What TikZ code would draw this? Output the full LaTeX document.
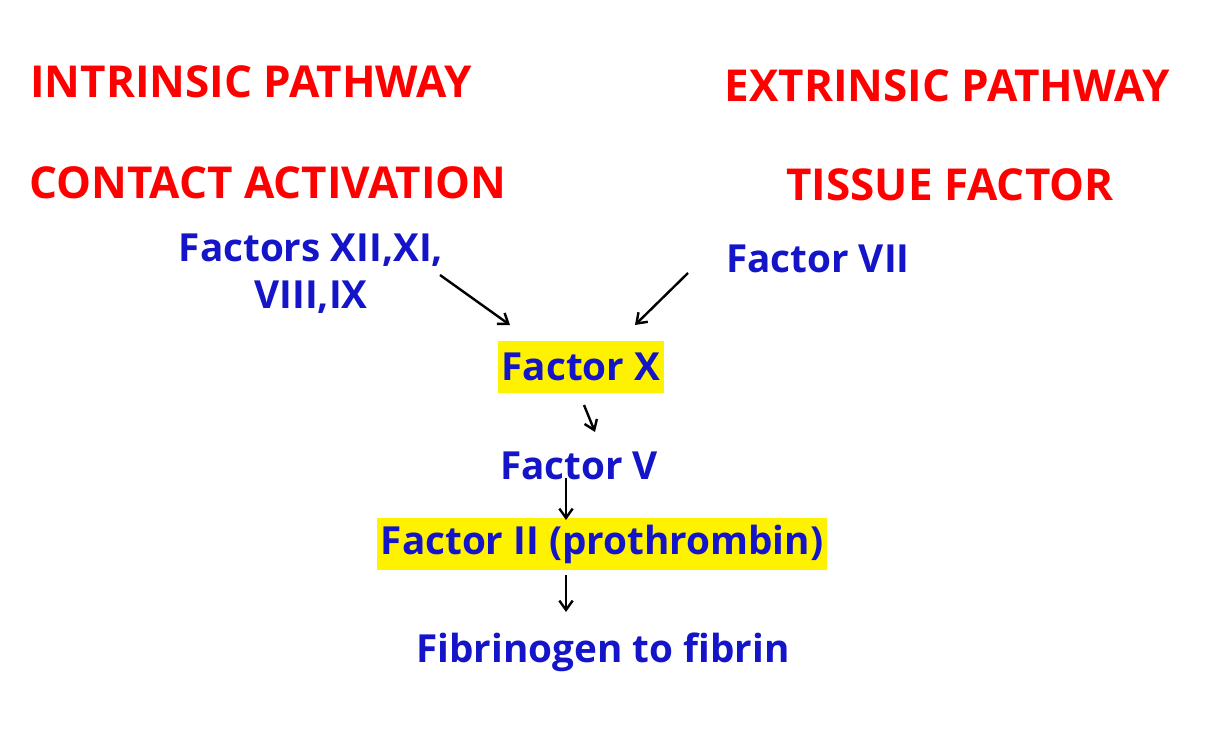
\documentclass[tikz,border=0pt]{standalone}
\usepackage{fontspec}
\usetikzlibrary{arrows.meta}
\setmainfont{Open Sans}
\begin{document}
\begin{tikzpicture}[x=0.75pt,y=-0.75pt,
 red/.style={text=red,font=\fontsize{33}{38}\selectfont\bfseries,inner sep=0},
 blue/.style={text={rgb,255:red,20;green,20;blue,200},font=\fontsize{29}{35}\selectfont\bfseries,inner sep=2pt,align=center},
 hl/.style={blue,fill=yellow,inner sep=3pt,minimum height=39pt},
 arr/.style={-{Straight Barb[length=7pt,width=10pt]},line width=1.8pt}]
\useasboundingbox (0,0) rectangle (1206,753);
\node[red] (ip) at (251,82) {INTRINSIC PATHWAY};
\node[red] (ep) at (947,86) {EXTRINSIC PATHWAY};
\node[red] (ca) at (268,183) {CONTACT ACTIVATION};
\node[red] (tf) at (950,185) {TISSUE FACTOR};
\node[blue] (f12) at (311,274) {Factors XII,XI,\\VIII,IX};
\node[blue] (f7) at (818,259) {Factor VII};
\node[hl] (f10) at (581,367) {Factor X};
\node[blue] (f5) at (579,466) {Factor V};
\node[hl] (f2) at (602,544) {Factor II (prothrombin)};
\node[blue] (fib) at (603,652) {Fibrinogen to fibrin};
\coordinate (a1) at (440,275); \coordinate (b1) at (510,325);
\coordinate (a2) at (688,273); \coordinate (b2) at (635,325);
\draw[arr] (a1) -- (b1);
\draw[arr] (a2) -- (b2);
\draw[arr] (584,405) coordinate (c3) -- (595,432) coordinate (d3);
\draw[arr] (566,478) coordinate (c4) -- (566,520) coordinate (d4);
\draw[arr] (566,575) coordinate (c5) -- (566,612) coordinate (d5);
\end{tikzpicture}
\end{document}
